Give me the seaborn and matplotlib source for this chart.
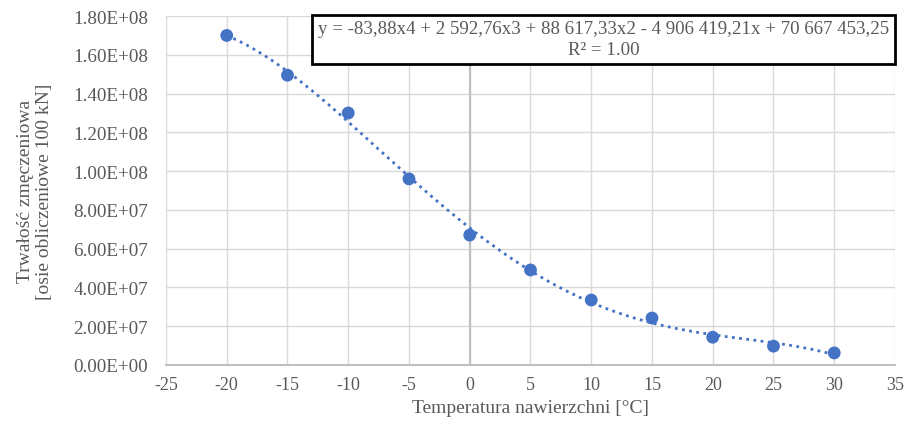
import numpy as np
import pandas as pd
import matplotlib
matplotlib.use("Agg")
import matplotlib.pyplot as plt
import seaborn as sns

temperatura = [-20, -15, -10, -5, 0, 5, 10, 15, 20, 25, 30]
trwalosc = [1.70e8, 1.495e8, 1.30e8, 0.96e8, 0.67e8, 0.49e8, 0.335e8, 0.242e8, 0.143e8, 0.097e8, 0.062e8]
x_ticks = list(range(-25, 40, 5))
y_ticks = [i * 2e7 for i in range(10)]
rownanie = "y = -83,88x4 + 2 592,76x3 + 88 617,33x2 - 4 906 419,21x + 70 667 453,25\nR² = 1.00"

df = pd.DataFrame({"T": temperatura, "N": trwalosc})

sns.set_theme(style="white")
plt.rcParams["font.family"] = ["Liberation Serif", "DejaVu Serif"]
GRAY = "#595959"
BLUE = "#4472C4"

fig = plt.figure(figsize=(9.17, 4.27), dpi=100)
ax = fig.add_axes([0.181, 0.143, 0.795, 0.817])

# linia trendu - wielomian 4 stopnia
coef = np.polyfit(df["T"], df["N"], 4)
xs = np.linspace(-20, 30, 300)
trend = pd.DataFrame({"T": xs, "N": np.polyval(coef, xs)})
sns.lineplot(data=trend, x="T", y="N", ax=ax, color=BLUE, lw=2, ls=(0, (1, 1.6)), zorder=3)
sns.scatterplot(data=df, x="T", y="N", ax=ax, color=BLUE, s=85, edgecolor="none", zorder=4)

ax.set_xlim(-25, 35)
ax.set_ylim(0, 1.8e8)
ax.set_xticks(x_ticks)
ax.set_yticks(y_ticks)
ax.set_xticklabels([str(v) for v in x_ticks])
ax.set_yticklabels([f"{v:.2E}" for v in y_ticks])
ax.grid(True, color="#d9d9d9", lw=1)
ax.axvline(0, color="#bfbfbf", lw=1.5, zorder=2)
for s in ["top", "right", "left"]:
    ax.spines[s].set_visible(False)
ax.spines["bottom"].set_color("#bfbfbf")
ax.spines["bottom"].set_linewidth(1.5)
ax.tick_params(axis="x", colors=GRAY, labelsize=13, length=0, pad=8)
ax.tick_params(axis="y", colors=GRAY, labelsize=13.8, length=0, pad=13)

ax.set_xlabel("Temperatura nawierzchni [°C]", color=GRAY, fontsize=14)
ax.set_ylabel("Trwałość zmęczeniowa\n[osie obliczeniowe 100 kN]", color=GRAY, fontsize=14, labelpad=14)

ax.text(0.600, 0.988, rownanie, transform=ax.transAxes, ha="center", va="top",
        fontsize=13.6, color=GRAY, linespacing=1.3, zorder=6,
        bbox=dict(boxstyle="square,pad=0.3", fc="white", ec="black", lw=2))

plt.savefig("out.png", dpi=100)
plt.close()
